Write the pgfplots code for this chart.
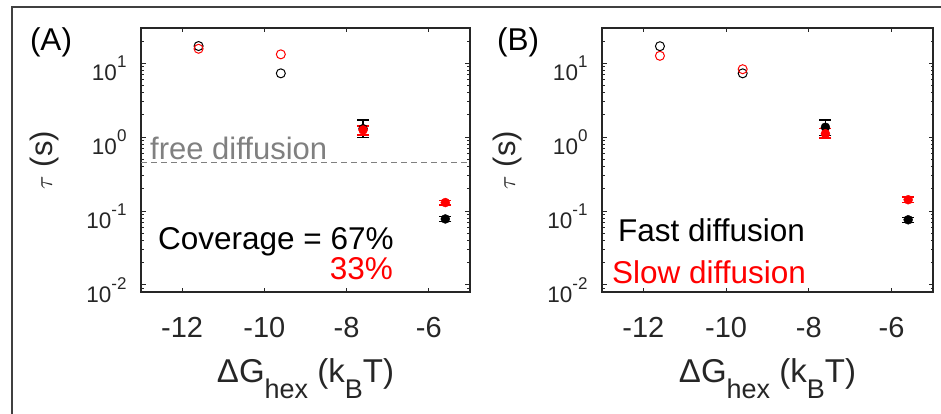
\documentclass[border=0pt]{standalone}
\usepackage{fontspec}
\setmainfont{Liberation Sans}
\usepackage{pgfplots}
\pgfplotsset{compat=1.18}
\definecolor{axgray}{rgb}{0.15,0.15,0.15}
\definecolor{fdgray}{rgb}{0.5,0.5,0.5}
\definecolor{framegray}{rgb}{0.25,0.25,0.25}
\newcommand{\tenpow}[1]{10\raisebox{13pt}{\fontsize{17}{17}\selectfont #1}}
\newcommand{\xlab}{ΔG\raisebox{-16pt}{\fontsize{27}{27}\selectfont hex} (k\raisebox{-16pt}{\fontsize{27}{27}\selectfont B}T)}
\newcommand{\ylab}{{\fontsize{38}{38}\selectfont$\tau$} (s)}
\begin{document}
\begin{tikzpicture}[x=1pt,y=1pt]
\useasboundingbox (0,0) rectangle (941,414);
\begin{scope}
\clip (0,0) rectangle (941,414);
\draw[framegray, line width=2pt] (11.5,406.5) rectangle (960,-20);
\end{scope}

% Panel A
\begin{axis}[ymode=log,
    scale only axis, width=329pt, height=264pt, at={(141pt,122pt)}, anchor=south west,
    xmin=-13, xmax=-5, ymin=0.008, ymax=30,
    axis line style={axgray, line width=1.2pt},
    every tick/.style={axgray, line width=0.9pt},
    tick align=inside,
    major tick length=4.5pt, minor tick length=2.5pt,
    xtick={-12,-10,-8,-6}, xticklabels={-12,-10,-8,-6},
    ytick={0.01,0.1,1,10},
    yticklabels={\tenpow{-2},\tenpow{-1},\tenpow{0},\tenpow{1}},
    minor ytick={0.009,0.02,0.03,0.04,0.05,0.06,0.07,0.08,0.09,0.2,0.3,0.4,0.5,0.6,0.7,0.8,0.9,2,3,4,5,6,7,8,9,20,30},
    xticklabel style={font=\fontsize{29}{29}\selectfont, text=axgray, yshift=-21.5pt},
    yticklabel style={font=\fontsize{22.5}{22.5}\selectfont, text=axgray, xshift=-11pt, yshift=-5pt}]
\addplot[fdgray, line width=1.3pt, dash pattern=on 6pt off 4pt] coordinates {(-13,0.45) (-5,0.45)};
\addplot[only marks, mark=o, mark size=4.5pt, black, mark options={line width=1pt}] coordinates {(-11.6,17.1) (-9.6,7.3)};
\addplot[only marks, mark=o, mark size=4.5pt, red, mark options={line width=1pt}] coordinates {(-11.6,15.7) (-9.6,13.2)};
\addplot[only marks, mark=*, mark size=4.5pt, black,
  error bars/.cd, y dir=both, y explicit,
  error bar style={line width=1.3pt, black},
  error mark options={rotate=90, mark size=6pt, line width=1.3pt, black}]
  coordinates {(-7.6,1.3) += (0,0.40) -= (0,0.31) (-5.6,0.078) += (0,0.006) -= (0,0.006)};
\addplot[only marks, mark=*, mark size=4.5pt, red,
  error bars/.cd, y dir=both, y explicit,
  error bar style={line width=1.3pt, red},
  error mark options={rotate=90, mark size=6pt, line width=1.3pt, red}]
  coordinates {(-7.6,1.25) += (0,0.17) -= (0,0.18) (-5.6,0.13) += (0,0.01) -= (0,0.01)};
\end{axis}

% Panel B
\begin{axis}[ymode=log,
    scale only axis, width=331pt, height=264pt, at={(602pt,122pt)}, anchor=south west,
    xmin=-13, xmax=-5, ymin=0.008, ymax=30,
    axis line style={axgray, line width=1.2pt},
    every tick/.style={axgray, line width=0.9pt},
    tick align=inside,
    major tick length=4.5pt, minor tick length=2.5pt,
    xtick={-12,-10,-8,-6}, xticklabels={-12,-10,-8,-6},
    ytick={0.01,0.1,1,10},
    yticklabels={\tenpow{-2},\tenpow{-1},\tenpow{0},\tenpow{1}},
    minor ytick={0.009,0.02,0.03,0.04,0.05,0.06,0.07,0.08,0.09,0.2,0.3,0.4,0.5,0.6,0.7,0.8,0.9,2,3,4,5,6,7,8,9,20,30},
    xticklabel style={font=\fontsize{29}{29}\selectfont, text=axgray, yshift=-21.5pt},
    yticklabel style={font=\fontsize{22.5}{22.5}\selectfont, text=axgray, xshift=-11pt, yshift=-5pt}]
\addplot[only marks, mark=o, mark size=4.5pt, black, mark options={line width=1pt}] coordinates {(-11.6,17.0) (-9.6,7.3)};
\addplot[only marks, mark=o, mark size=4.5pt, red, mark options={line width=1pt}] coordinates {(-11.6,12.6) (-9.6,8.3)};
\addplot[only marks, mark=*, mark size=4.5pt, black,
  error bars/.cd, y dir=both, y explicit,
  error bar style={line width=1.3pt, black},
  error mark options={rotate=90, mark size=6pt, line width=1.3pt, black}]
  coordinates {(-7.6,1.36) += (0,0.35) -= (0,0.31) (-5.6,0.076) += (0,0.006) -= (0,0.006)};
\addplot[only marks, mark=*, mark size=4.5pt, red,
  error bars/.cd, y dir=both, y explicit,
  error bar style={line width=1.3pt, red},
  error mark options={rotate=90, mark size=6pt, line width=1.3pt, red}]
  coordinates {(-7.6,1.11) += (0,0.20) -= (0,0.14) (-5.6,0.142) += (0,0.012) -= (0,0.012)};
\end{axis}

% Texts
\begin{scope}[every node/.style={inner sep=0pt}]
\node[font=\fontsize{31.5}{31.5}\selectfont, text=black] at (51,372) {(A)};
\node[font=\fontsize{31.5}{31.5}\selectfont, text=black] at (518,372) {(B)};
\node[font=\fontsize{31}{31}\selectfont, text=axgray, rotate=90] at (44,254) {\ylab};
\node[font=\fontsize{31}{31}\selectfont, text=axgray, rotate=90] at (507,254) {\ylab};
\node[font=\fontsize{33}{33}\selectfont, text=axgray, anchor=base] at (305.5,31) {\xlab};
\node[font=\fontsize{33}{33}\selectfont, text=axgray, anchor=base] at (767.5,31) {\xlab};
\node[font=\fontsize{31}{31}\selectfont, text=fdgray, anchor=base west] at (150,254.7) {free diffusion};
\node[font=\fontsize{31.5}{31.5}\selectfont, text=black, anchor=base west] at (158,164) {Coverage = 67\%};
\node[font=\fontsize{31.5}{31.5}\selectfont, text=red, anchor=base east] at (393,134) {33\%};
\node[font=\fontsize{31.5}{31.5}\selectfont, text=black, anchor=base west] at (618,172.3) {Fast diffusion};
\node[font=\fontsize{31.5}{31.5}\selectfont, text=red, anchor=base west] at (612,130.7) {Slow diffusion};
\end{scope}
\end{tikzpicture}
\end{document}
